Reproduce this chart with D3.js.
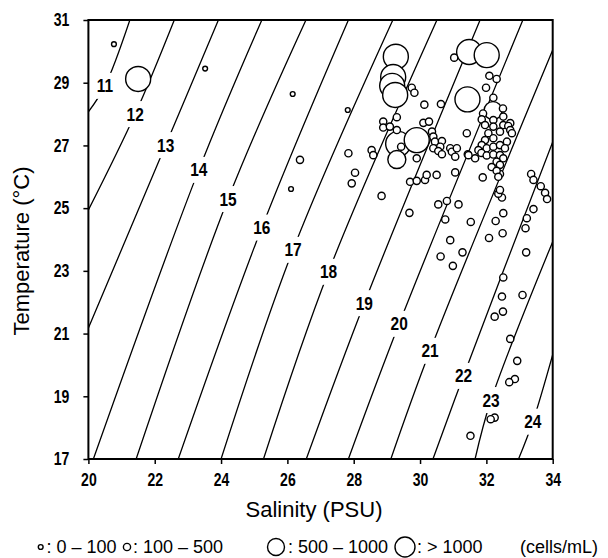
<!DOCTYPE html>
<html>
<head>
<meta charset="utf-8">
<script src="https://cdn.jsdelivr.net/npm/d3@7"></script>
<style>
  body { margin: 0; background: #fff; }
  .narrow { font-family: "Liberation Sans", Arial, sans-serif; font-weight: bold; }
  .plain { font-family: "Liberation Sans", Arial, sans-serif; }
</style>
</head>
<body>
<svg id="chart" width="608" height="558"></svg>
<script>
/* ---------------- Data ---------------- */
var xTicks = [20, 22, 24, 26, 28, 30, 32, 34];
var yTicks = [17, 19, 21, 23, 25, 27, 29, 31];

// sigma-t levels and the [salinity, temperature] points each isopycnal passes through
var sigmaLevels = [11, 12, 13, 14, 15, 16, 17, 18, 19, 20, 21, 22, 23, 24];
var isopycnals = [
  [[20, 28.07], [20.50, 28.90], [21.25, 31]],
  [[20, 24.94], [21.41, 28.00], [22.59, 31]],
  [[20, 21.18], [22.33, 27.01], [23.92, 31]],
  [[20.15, 17], [23.33, 26.22], [25.23, 31]],
  [[21.44, 17], [24.21, 25.29], [26.56, 31]],
  [[22.71, 17], [25.23, 24.38], [27.84, 31]],
  [[24.00, 17], [26.17, 23.67], [29.18, 31]],
  [[25.28, 17], [27.24, 22.97], [30.51, 31]],
  [[26.57, 17], [28.32, 21.97], [31.81, 31]],
  [[27.84, 17], [29.37, 21.31], [33.10, 31]],
  [[29.12, 17], [30.30, 20.45], [34, 30.04]],
  [[30.39, 17], [31.31, 19.65], [34, 27.11]],
  [[31.66, 17], [32.14, 18.88], [34, 23.93]],
  [[32.97, 17], [33.40, 18.19], [34, 20.33]]
];
// where each sigma label sits (salinity, temperature)
var sigmaLabelPos = [
  [20.50, 28.90], [21.41, 28.00], [22.33, 27.01], [23.33, 26.22], [24.21, 25.29],
  [25.23, 24.38], [26.17, 23.67], [27.24, 22.97], [28.32, 21.97], [29.37, 21.31],
  [30.30, 20.45], [31.31, 19.65], [32.14, 18.88], [33.40, 18.19]
];

// stations [salinity, temperature], one array per cell density class
var cellsOver1000 = [
  [21.50, 29.12], [29.27, 29.83], [29.19, 29.18], [29.16, 28.90], [29.25, 28.61],
  [31.48, 29.98], [32.01, 29.88], [31.43, 28.47], [29.34, 27.05], [29.90, 27.17]
];
var cells500to1000 = [[29.30, 26.55], [32.20, 28.11]];
var cells0to100 = [[20.77, 30.23], [23.52, 29.45], [26.16, 28.64], [26.11, 25.61], [27.82, 28.13]];
var cells100to500 = [
  [26.38, 26.54], [27.84, 26.75], [28.04, 26.13], [27.94, 25.79], [28.84, 25.39],
  [28.54, 26.85], [28.59, 26.69], [28.89, 27.76], [28.89, 27.57], [29.09, 27.60],
  [29.30, 27.90], [29.30, 27.49], [29.43, 26.96], [29.75, 28.84], [29.83, 28.68],
  [30.13, 28.30], [30.63, 28.32], [31.03, 29.80], [29.90, 26.59], [30.10, 27.72],
  [30.27, 27.76], [30.36, 27.44], [30.40, 27.28], [30.45, 27.12], [30.66, 27.14],
  [30.61, 26.96], [30.40, 26.91], [30.55, 26.82], [30.66, 26.72], [30.91, 26.91],
  [30.96, 26.80], [31.11, 26.91], [31.06, 26.64], [31.41, 27.39], [29.70, 25.84],
  [29.90, 25.87], [30.15, 25.90], [30.20, 26.06], [30.50, 26.06], [31.06, 26.14],
  [29.68, 24.85], [30.55, 25.12], [30.81, 25.23], [31.16, 25.12], [30.76, 24.64],
  [31.53, 24.56], [30.91, 23.98], [30.62, 23.46], [31.28, 23.59], [30.99, 23.16],
  [32.28, 24.59], [32.51, 24.84], [32.49, 24.20], [32.08, 24.05], [32.47, 25.34],
  [32.36, 25.46], [32.41, 26.09], [31.89, 25.98], [31.66, 26.59], [31.44, 26.72],
  [33.35, 26.09], [33.42, 25.90], [33.64, 25.70], [33.77, 25.49], [33.83, 25.29],
  [33.42, 24.97], [33.22, 24.68], [33.18, 24.36], [33.20, 23.59], [32.51, 22.79],
  [32.47, 22.18], [33.09, 22.23], [32.50, 21.70], [32.25, 21.54], [32.72, 20.83],
  [32.93, 20.13], [32.86, 19.55], [32.69, 19.45], [32.25, 18.32], [32.13, 18.27],
  [31.52, 17.74],
  [32.09, 29.22], [32.31, 29.12], [31.99, 28.84], [32.21, 28.52], [32.50, 28.18],
  [31.90, 28.02], [32.51, 27.92], [32.72, 27.71],
  [31.86, 27.83], [31.96, 27.65], [32.21, 27.81], [32.51, 27.65], [32.66, 27.62],
  [32.72, 27.49], [32.77, 27.39], [32.21, 27.60], [32.41, 27.44], [32.62, 27.12],
  [32.06, 27.39], [32.21, 27.23], [31.96, 27.17], [31.86, 27.01], [32.01, 26.91],
  [32.21, 26.96], [32.41, 27.01], [32.56, 26.91], [31.76, 26.85], [31.85, 26.76],
  [32.01, 26.68], [32.21, 26.71], [32.41, 26.69], [32.51, 26.59], [32.31, 26.48],
  [32.41, 26.38], [32.16, 26.31], [32.31, 26.19], [32.36, 26.00], [31.46, 26.69],
  [32.41, 25.58]
];

var legendLabels = [": 0 \u2013 100", ": 100 \u2013 500", ": 500 \u2013 1000", ": > 1000"];
var legendUnit = "(cells/mL)";

/* ---------------- Layout ---------------- */
var plot = {left: 88.4, right: 552.7, top: 20, bottom: 459};
var radius = {c0: 2.4, c1: 3.6, c2: 9, c3: 12.5};
var squeeze = 0.78;   // condensed look of the bold digits

var svg = d3.select("#chart");

var xScale = d3.scaleLinear().domain([20, 34]).range([plot.left, plot.right]);
var yScale = d3.scaleLinear().domain([17, 31]).range([plot.bottom, plot.top]);

svg.append("clipPath").attr("id", "plotClip")
  .append("rect")
  .attr("x", plot.left).attr("y", plot.top)
  .attr("width", plot.right - plot.left).attr("height", plot.bottom - plot.top);

// Isopycnals
var line = d3.line()
  .x(d => xScale(d[0]))
  .y(d => yScale(d[1]))
  .curve(d3.curveCatmullRom.alpha(0.5));

svg.append("g")
  .attr("clip-path", "url(#plotClip)")
  .selectAll("path")
  .data(isopycnals)
  .join("path")
  .attr("d", line)
  .attr("fill", "none")
  .attr("stroke", "#000")
  .attr("stroke-width", 1.3);

// Sigma labels, with a white gap in the line
var gLabels = svg.append("g").attr("class", "narrow");
sigmaLevels.forEach((lv, i) => {
  var p = sigmaLabelPos[i];
  var g = gLabels.append("g")
    .attr("transform", `translate(${xScale(p[0])}, ${yScale(p[1])})`);
  g.append("rect")
    .attr("x", -11).attr("y", -13)
    .attr("width", 22).attr("height", 26)
    .attr("fill", "#fff");
  g.append("text")
    .attr("text-anchor", "middle")
    .attr("dy", "0.36em")
    .attr("font-size", 18)
    .attr("transform", "scale(0.86, 1)")
    .text(lv);
});

// Stations, biggest first
var classes = [
  {data: cellsOver1000, r: radius.c3},
  {data: cells500to1000, r: radius.c2},
  {data: cells100to500, r: radius.c1},
  {data: cells0to100, r: radius.c0}
];
var gPts = svg.append("g");
classes.forEach(c => {
  gPts.append("g")
    .selectAll("circle")
    .data(c.data)
    .join("circle")
    .attr("cx", d => xScale(d[0]))
    .attr("cy", d => yScale(d[1]))
    .attr("r", c.r)
    .attr("fill", "#fff")
    .attr("stroke", "#000")
    .attr("stroke-width", 1.4);
});

// Frame
svg.append("rect")
  .attr("x", plot.left).attr("y", plot.top)
  .attr("width", plot.right - plot.left).attr("height", plot.bottom - plot.top)
  .attr("fill", "none")
  .attr("stroke", "#000")
  .attr("stroke-width", 2);

// Axes
var xAxis = d3.axisBottom(xScale).tickValues(xTicks).tickSize(5).tickPadding(9);
var yAxis = d3.axisLeft(yScale).tickValues(yTicks).tickSize(5).tickPadding(14);

var gx = svg.append("g")
  .attr("transform", `translate(0, ${plot.bottom})`)
  .call(xAxis)
  .call(g => g.select(".domain").remove());

var gy = svg.append("g")
  .attr("transform", `translate(${plot.left}, 0)`)
  .call(yAxis)
  .call(g => g.select(".domain").remove());

svg.selectAll(".tick line").attr("stroke-width", 1.5);
svg.selectAll(".tick text")
  .attr("class", "narrow")
  .attr("font-size", 18)
  .attr("fill", "#000")
  .attr("transform", `scale(${squeeze}, 1)`);
gy.selectAll(".tick text").attr("x", -19 / squeeze);

// Axis titles
svg.append("text")
  .attr("class", "plain")
  .attr("x", 314).attr("y", 517)
  .attr("text-anchor", "middle")
  .attr("font-size", 22)
  .text("Salinity (PSU)");

svg.append("text")
  .attr("class", "plain")
  .attr("transform", "translate(29, 251) rotate(-90)")
  .attr("text-anchor", "middle")
  .attr("font-size", 22)
  .text("Temperature (\u00B0C)");

// Legend: circle x, text x
var legendX = [[40.7, 46.5], [127, 133], [276, 288], [405, 417]];
var legendR = [radius.c0, radius.c1, 8.5, 10];
var gLeg = svg.append("g").attr("class", "plain");
legendLabels.forEach((t, i) => {
  gLeg.append("circle")
    .attr("cx", legendX[i][0]).attr("cy", 547)
    .attr("r", legendR[i])
    .attr("fill", "#fff").attr("stroke", "#000").attr("stroke-width", 1.4);
  gLeg.append("text")
    .attr("x", legendX[i][1]).attr("y", 553)
    .attr("font-size", 18)
    .text(t);
});
gLeg.append("text")
  .attr("x", 520).attr("y", 553)
  .attr("font-size", 18)
  .text(legendUnit);
</script>
</body>
</html>
